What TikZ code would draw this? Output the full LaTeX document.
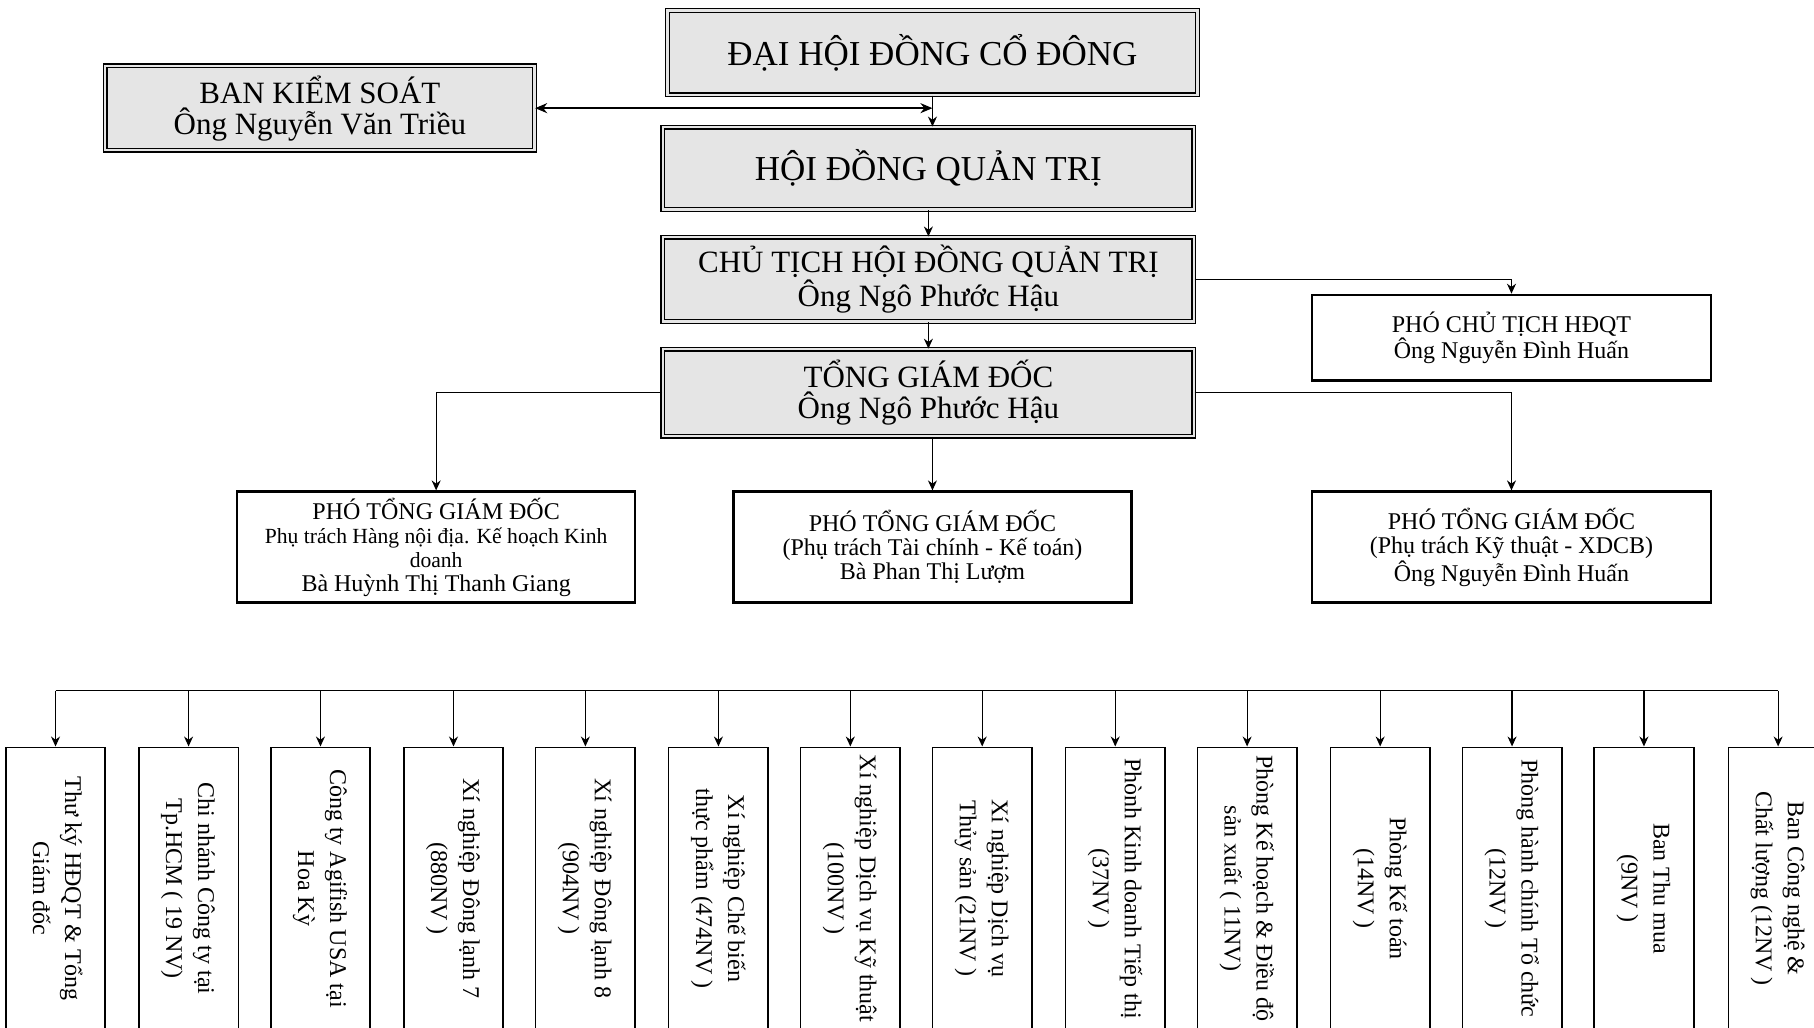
\documentclass[tikz,border=0pt]{standalone}
\usepackage{fontspec}
\setmainfont{Liberation Serif}
\usetikzlibrary{arrows.meta}
\newcommand{\vlbl}[2]{\rotatebox{-90}{\begin{tabular}{@{}c@{}}#1\\#2\end{tabular}}}
\begin{document}
\begin{tikzpicture}[x=0.5785pt,y=-0.5785pt,
  graybox/.style={draw=black, line width=0.7pt, double=black!10, double distance=1.1pt, fill=black!10, align=center, inner sep=0pt},
  whitebox/.style={draw=black, line width=1.3pt, fill=white, align=center, inner sep=0pt},
  unitbox/.style={draw=black, line width=0.8pt, minimum width=49.75pt, minimum height=141.2pt, inner sep=0pt, font=\fontsize{12}{16}\selectfont},
  conn/.style={line width=0.6pt, -{Stealth[length=5pt,width=4.5pt]}},
  bigfont/.style={font=\fontsize{17.5}{20}\selectfont},
  midfont/.style={font=\fontsize{15.5}{15.5}\selectfont},
  smallfont/.style={font=\fontsize{12}{12}\selectfont},
]
\useasboundingbox (0,0) rectangle (1568,888);
\clip (0,0) rectangle (1568,888);

\node[graybox, bigfont, minimum width=265pt, minimum height=42.2pt] (dh) at (806,45.5) {ĐẠI HỘI ĐỒNG CỔ ĐÔNG};
\node[graybox, midfont, minimum width=214.6pt, minimum height=42.2pt] (bks) at (276.5,93.5) {BAN KIỂM SOÁT\\Ông Nguyễn Văn Triều};
\node[graybox, bigfont, minimum width=265.5pt, minimum height=41.1pt] (hdqt) at (802.5,145.5) {HỘI ĐỒNG QUẢN TRỊ};
\node[graybox, midfont, minimum width=265.5pt, minimum height=42.2pt] (ct) at (802.5,241.5) {CHỦ TỊCH HỘI ĐỒNG QUẢN TRỊ\\Ông Ngô Phước Hậu};
\node[graybox, midfont, minimum width=265.5pt, minimum height=43.4pt] (tgd) at (802.5,339.5) {TỔNG GIÁM ĐỐC\\Ông Ngô Phước Hậu};
\node[whitebox, smallfont, minimum width=199.6pt, minimum height=42.8pt] (pct) at (1306.5,292) {PHÓ CHỦ TỊCH HĐQT\\Ông Nguyễn Đình Huấn};
\node[whitebox, smallfont, minimum width=199pt, minimum height=55.5pt] (p1) at (377,473) {PHÓ TỔNG GIÁM ĐỐC\\{\fontsize{10.8}{11}\selectfont Phụ trách Hàng nội địa. Kế hoạch Kinh}\\{\fontsize{10.8}{11}\selectfont doanh}\\Bà Huỳnh Thị Thanh Giang};
\node[whitebox, smallfont, minimum width=199pt, minimum height=55.5pt] (p2) at (806,473) {PHÓ TỔNG GIÁM ĐỐC\\(Phụ trách Tài chính - Kế toán)\\Bà Phan Thị Lượm};
\node[whitebox, smallfont, minimum width=199.6pt, minimum height=55.5pt] (p3) at (1306.5,473) {PHÓ TỔNG GIÁM ĐỐC\\(Phụ trách Kỹ thuật - XDCB)\\Ông Nguyễn Đình Huấn};

\coordinate (bksj) at (dh.south |- bks.east);
\draw[conn] (dh.south) -- (dh.south |- hdqt.north);
\draw[line width=1pt, {Stealth[length=6pt,width=5pt]}-{Stealth[length=6pt,width=5pt]}] (bks.east) -- (bksj);
\draw[conn] (hdqt.south) -- (ct.north);
\draw[conn] (ct.south) -- (tgd.north);
\draw[conn] (ct.east) -| (pct.north);
\draw[conn] (tgd.west) -| (p1.north);
\draw[conn] (tgd.south -| p2.north) -- (p2.north);
\draw[conn] (tgd.east) -| (p3.north);

\coordinate (busL) at (48,597);
\coordinate (busR) at (1537,597);
\draw[line width=0.75pt] (busL) -- (busR);

\foreach \i/\xx/\la/\lb in {
  1/48/{Thư ký HĐQT \& Tổng}/{Giám đốc},
  2/163/{Chi nhánh Công ty tại}/{Tp.HCM ( 19 NV)},
  3/277/{Công ty Agifish USA tại}/{Hoa Kỳ},
  4/392/{Xí nghiệp Đông lạnh 7}/{(880NV )},
  5/506/{Xí nghiệp Đông lạnh 8}/{(904NV )},
  6/621/{Xí nghiệp Chế biến}/{thực phẩm (474NV )},
  7/735/{Xí nghiệp Dịch vụ Kỹ thuật}/{(100NV )},
  8/849/{Xí nghiệp Dịch vụ}/{Thủy sản (21NV )},
  9/964/{Phònh Kinh doanh Tiếp thị}/{(37NV )},
  10/1078/{Phòng Kế hoạch \& Điều độ}/{sản xuất ( 11NV)},
  11/1193/{Phòng Kế toán}/{(14NV )},
  12/1307/{Phòng hành chính Tổ chức}/{(12NV )},
  13/1421/{Ban Thu mua}/{(9NV )},
  14/1537/{Ban Công nghệ \&}/{Chất lượng (12NV )}} {
  \node[unitbox] (u\i) at (\xx,768) {\vlbl{\la}{\lb}};
  \draw[conn] (u\i.north |- busL) -- (u\i.north);
}
\end{tikzpicture}
\end{document}
